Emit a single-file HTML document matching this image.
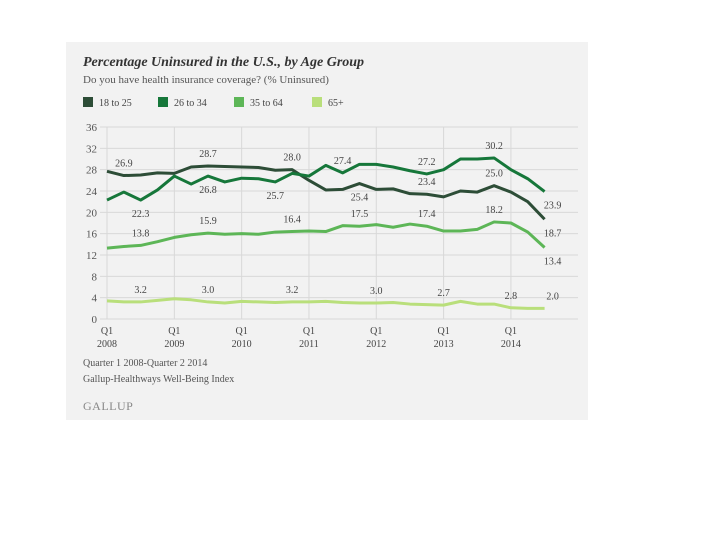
<!DOCTYPE html>
<html><head><meta charset="utf-8"><style>
body{margin:0;background:#fff;width:720px;height:540px;overflow:hidden;font-family:"Liberation Serif",serif;}
#panel{position:absolute;left:66px;top:42px;width:522px;height:378px;background:#f2f2f2;}
</style></head><body>
<div id="panel"></div>
<svg id="chart" width="720" height="540" style="position:absolute;left:0;top:0"></svg>
<script>
const years=["2008","2009","2010","2011","2012","2013","2014"];
const yTicks=[0,4,8,12,16,20,24,28,32,36];
const seriesNames=["18 to 25","26 to 34","35 to 64","65+"];
const seriesColors=["#2d4d37","#16773a","#5db657","#b9df7b"];
const s1825=[27.7,26.9,27.0,27.4,27.3,28.5,28.7,28.6,28.5,28.4,27.9,28.0,26.0,24.2,24.3,25.4,24.3,24.4,23.5,23.4,22.9,24.0,23.8,25.0,23.8,22.0,18.7];
const s2634=[22.3,23.8,22.3,24.2,26.8,25.3,26.8,25.7,26.4,26.3,25.7,27.3,26.8,28.8,27.4,29.0,29.0,28.5,27.8,27.2,28.0,30.0,30.0,30.2,28.0,26.3,23.9];
const s3564=[13.3,13.6,13.8,14.5,15.3,15.8,16.1,15.9,16.0,15.9,16.3,16.4,16.5,16.4,17.5,17.4,17.7,17.2,17.8,17.4,16.5,16.5,16.8,18.2,18.0,16.3,13.4];
const s65=[3.4,3.2,3.2,3.5,3.8,3.6,3.2,3.0,3.3,3.2,3.1,3.2,3.2,3.3,3.1,3.0,3.0,3.1,2.8,2.7,2.6,3.3,2.8,2.8,2.1,2.0,2.0];
const labelSeries=[0,0,0,0,0,0,0,1,1,1,1,1,1,1,2,2,2,2,2,2,2,3,3,3,3,3,3,3];
const labelIdx=[1,6,11,15,19,23,26,2,6,10,14,19,23,26,2,6,11,15,19,23,26,2,6,11,16,20,24,26];
const labelText=["26.9","28.7","28.0","25.4","23.4","25.0","18.7","22.3","26.8","25.7","27.4","27.2","30.2","23.9","13.8","15.9","16.4","17.5","17.4","18.2","13.4","3.2","3.0","3.2","3.0","2.7","2.8","2.0"];
const labelBelow=[0,0,0,1,0,0,1,1,1,1,0,0,0,1,0,0,0,0,0,0,1,0,0,0,0,0,0,0];
const all=[s1825,s2634,s3564,s65];
const NS="http://www.w3.org/2000/svg";
const svg=document.getElementById('chart');
const x=i=>107+i*16.83;
const y=v=>319-v*5.333;
function mk(t,a,txt){const e=document.createElementNS(NS,t);for(const k in a)e.setAttribute(k,a[k]);if(txt!==undefined)e.textContent=txt;svg.appendChild(e);return e;}
let e;
e=mk('text',{x:83,y:66,'font-size':14,'font-style':'italic','font-weight':'bold',fill:'#333'},'Percentage Uninsured in the U.S., by Age Group');


e=mk('text',{x:83,y:83,'font-size':11,fill:'#555'},'Do you have health insurance coverage? (% Uninsured)');


const lx=[83,158,234,312];
seriesNames.forEach((n,i)=>{
 const r=mk('rect',{x:lx[i],y:97,width:10,height:10,fill:seriesColors[i]});
 
 
 const t=mk('text',{x:lx[i]+16,y:106,'font-size':10,fill:'#444'},n);
 
 
});
yTicks.forEach(v=>{
 const g=mk('line',{x1:100,x2:578,y1:y(v),y2:y(v),stroke:'#d8d8d8','stroke-width':1});
 
 
 const t=mk('text',{x:97,y:y(v)+4,'font-size':11,fill:'#555','text-anchor':'end'},String(v));
 
 
});
years.forEach((yr,i)=>{
 const xx=x(i*4);
 const g=mk('line',{x1:xx,x2:xx,y1:y(36),y2:y(0),stroke:'#d8d8d8','stroke-width':1});
 
 
 const t1=mk('text',{x:xx,y:334,'font-size':10,fill:'#444','text-anchor':'middle'},'Q1');
 
 
 const t2=mk('text',{x:xx,y:347,'font-size':10,fill:'#444','text-anchor':'middle'},yr);
 
 
});
all.forEach((s,k)=>{
 const p=mk('polyline',{points:s.map((v,i)=>x(i)+','+y(v)).join(' '),fill:'none',stroke:seriesColors[k],'stroke-width':3,'stroke-linejoin':'round'});
 
 
});
labelText.forEach((t,j)=>{
 const s=all[labelSeries[j]],i=labelIdx[j];
 const below=labelBelow[j];
 const end=i===s.length-1;
 const tx=mk('text',{x:x(i)+(end?8:0),y:y(s[i])+(below?17:-9),'font-size':10,fill:'#444','text-anchor':'middle'},t);
 
 
});
e=mk('text',{x:83,y:366,'font-size':10,fill:'#555'},'Quarter 1 2008-Quarter 2 2014');


e=mk('text',{x:83,y:382,'font-size':10,fill:'#555'},'Gallup-Healthways Well-Being Index');


e=mk('text',{x:83,y:410,'font-size':12,fill:'#888','letter-spacing':'0.5'},'GALLUP');


</script>
</body></html>
